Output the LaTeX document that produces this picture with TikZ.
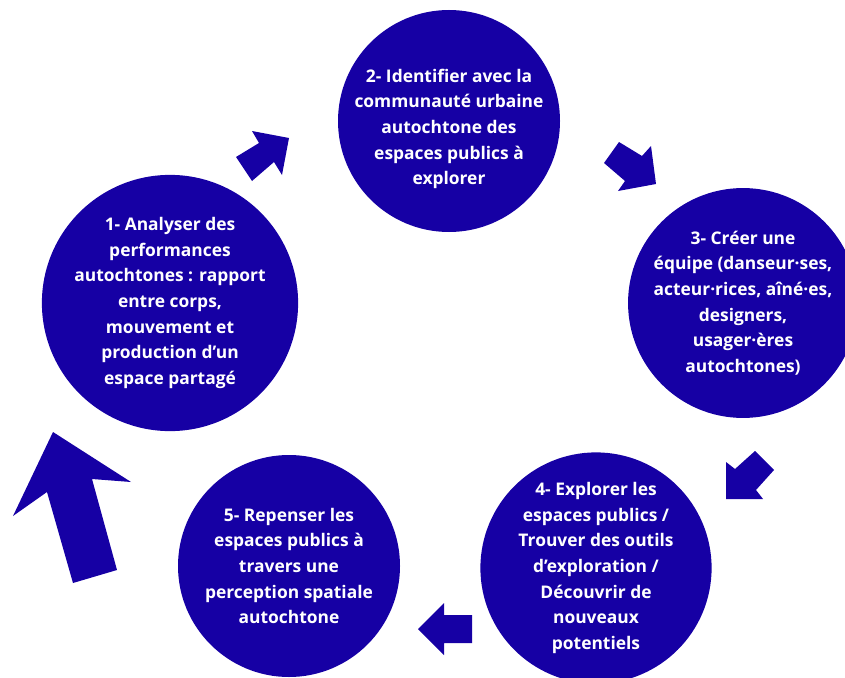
\documentclass[tikz,border=0pt]{standalone}
\usepackage{fontspec}
\setmainfont{Open Sans}
\definecolor{stepblue}{RGB}{22,0,164}
\begin{document}
\begin{tikzpicture}[x=1pt,y=-1pt,
  stepcircle/.style={circle,fill=stepblue,minimum size=222pt,inner sep=0pt,
    text=white,align=center,font=\fontsize{17.4}{25.7}\selectfont\bfseries},
  steptext/.style={text=white,align=center,inner sep=0pt,font=\fontsize{17.4}{25.7}\selectfont\bfseries},
  blockarrow/.style={fill=stepblue,draw=none}]
\useasboundingbox (0,0) rectangle (845,677);
\node[stepcircle] (s2) at (449,121) {};
\node[steptext] (s2t) at (449,129) {2- Identifier avec la\\communauté urbaine\\autochtone des\\espaces publics à\\explorer};
\node[stepcircle] (s1) at (170,303) {1- Analyser des\\performances\\autochtones : rapport\\entre corps,\\mouvement et\\production d’un\\espace partagé};
\node[stepcircle] (s3) at (743,303) {3- Créer une\\équipe (danseur·ses,\\acteur·rices, aîné·es,\\designers,\\usager·ères\\autochtones)};
\node[stepcircle] (s4) at (596,568) {4- Explorer les\\espaces publics /\\Trouver des outils\\d’exploration /\\Découvrir de\\nouveaux\\potentiels};
\node[stepcircle] (s5) at (289,566) {5- Repenser les\\espaces publics à\\travers une\\perception spatiale\\autochtone};
% arrow 1 -> 2
\fill[blockarrow] (236,157) -- (259,143) -- (252,131) -- (289,138) -- (282,175) -- (274,162) -- (252,181) -- cycle;
% arrow 2 -> 3
\fill[blockarrow] (619,142) -- (642,156) -- (651,146) -- (656,184) -- (618,191) -- (625,181) -- (604,163) -- cycle;
% arrow 3 -> 4
\fill[blockarrow] (726,499) -- (726,462) -- (735,469) -- (755,451) -- (774,470) -- (756,490) -- (763,499) -- cycle;
% arrow 4 -> 5
\fill[blockarrow] (418,629) -- (444,603) -- (444,615) -- (472,615) -- (472,643) -- (444,643) -- (444,655) -- cycle;
% arrow 5 -> 1
\fill[blockarrow] (53,432) -- (131,482) -- (92,479) -- (117,570) -- (73,583) -- (47,492) -- (13,516) -- cycle;
\end{tikzpicture}
\end{document}
